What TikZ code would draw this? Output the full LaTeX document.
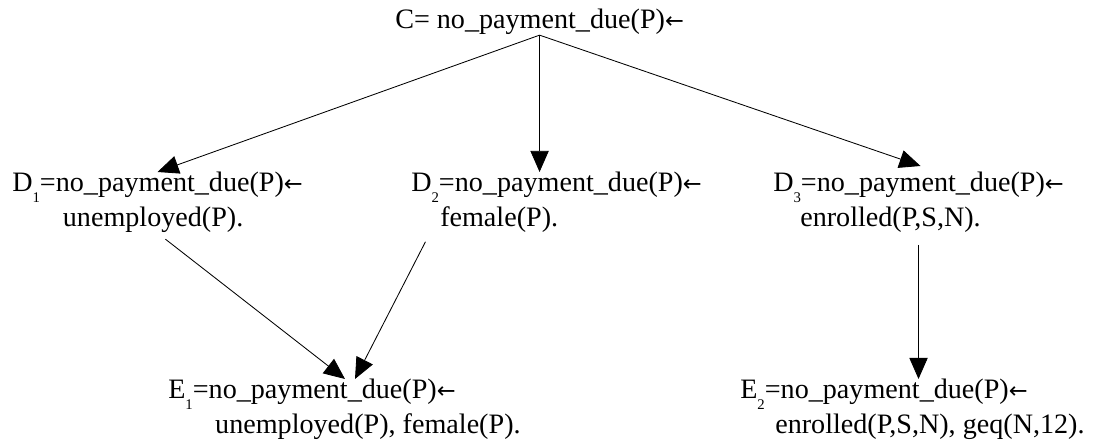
\documentclass[tikz,border=0pt]{standalone}
\usepackage{fontspec}
\setmainfont{Liberation Serif}
\newfontfamily\arrowfont{DejaVu Sans}
\usetikzlibrary{arrows.meta,calc}
\newcommand{\lowsub}[1]{\raisebox{-0.37em}{\fontsize{10.5pt}{10.5pt}\selectfont #1}}
\newcommand{\larr}{{\arrowfont\fontsize{16pt}{16pt}\selectfont ←}}

\begin{document}
\begin{tikzpicture}[x=0.025cm,y=-0.025cm,
    clause/.style={anchor=north west,inner sep=0pt,align=left,
      font=\fontsize{20pt}{24.8pt}\selectfont},
    arr/.style={-{Triangle[length=15pt,width=13pt]},line width=0.6pt}]
  \useasboundingbox (0,0) rectangle (1105,446);
  % top clause
  \node[clause] (c) at (395,9) {C= no\_payment\_due(P)\larr};
  % one literal added
  \node[clause] (d1) at (12,172)
    {D\lowsub{1}=no\_payment\_due(P)\larr\\\hspace*{36pt}unemployed(P).};
  \node[clause] (d2) at (411,172)
    {D\lowsub{2}=no\_payment\_due(P)\larr\\\hspace*{20.6pt}female(P).};
  \node[clause] (d3) at (773,172)
    {D\lowsub{3}=no\_payment\_due(P)\larr\\\hspace*{19.2pt}enrolled(P,S,N).};
  % two literals added
  \node[clause] (e1) at (168,379)
    {E\lowsub{1}=no\_payment\_due(P)\larr\\\hspace*{33.4pt}unemployed(P), female(P).};
  \node[clause] (e2) at (740,379)
    {E\lowsub{2}=no\_payment\_due(P)\larr\\\hspace*{24.9pt}enrolled(P,S,N), geq(N,12).};
  \draw[arr] (c.south) -- (d1.north);
  \draw[arr] (c.south) -- (c.south |- d2.north);
  \draw[arr] (c.south) -- ($(d3.north)+(2,-6)$);
  \draw[arr,shorten <=0.25cm] (d1.south) -- ($(e1.north west)+(177,0)$);
  \draw[arr,shorten <=0.25cm] ($(d2.south west)+(19,0)$) -- ($(e1.north west)+(187,0)$);
  \draw[arr,shorten <=0.3cm] (d3.south) -- (d3.south |- e2.north);
\end{tikzpicture}
\end{document}
